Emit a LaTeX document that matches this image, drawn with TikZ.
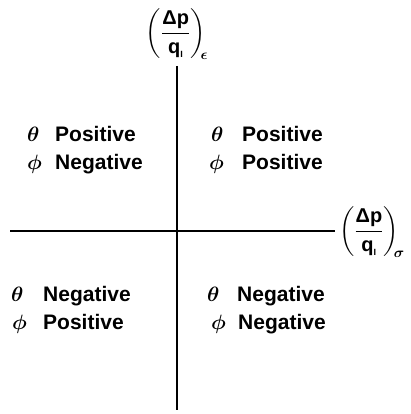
\documentclass[tikz,border=0pt]{standalone}
\usepackage{amsmath}
\usepackage{fontspec}
\setmainfont{Liberation Sans}
\begin{document}
\begin{tikzpicture}[x=1pt,y=-1pt,
  axis/.style={line width=1.5pt},
  lbl/.style={anchor=base west,inner sep=0pt,font=\fontsize{21}{24}\selectfont\bfseries},
  sym/.style={anchor=base west,inner sep=0pt,font=\fontsize{20}{24}\selectfont},
  axlbl/.style={inner sep=0pt,font=\fontsize{20}{24}\selectfont\bfseries}]
\useasboundingbox (0,0) rectangle (411,414);
\coordinate (vt) at (177,66);
\coordinate (vb) at (177,410);
\coordinate (hl) at (10,231);
\coordinate (hr) at (335,231);
\draw[axis] (vt) -- (vb);
\draw[axis] (hl) -- (hr);
\node[axlbl] (ylab) at (177,34) {$\left(\dfrac{\mbox{Δp}}{\mbox{q}_{\mbox{\small I}}}\right)_{\!\!\boldsymbol{\epsilon}}$};
\node[axlbl] (xlab) at (372,232) {$\left(\dfrac{\mbox{Δp}}{\mbox{q}_{\mbox{\small I}}}\right)_{\!\!\boldsymbol{\sigma}}$};
% upper left
\node[sym] (ul1s) at (27,142) {$\boldsymbol{\theta}$};
\node[lbl] (ul1) at (55,142) {Positive};
\node[sym] (ul2s) at (27,169) {$\boldsymbol{\phi}$};
\node[lbl] (ul2) at (55,169) {Negative};
% upper right
\node[sym] (ur1s) at (211,142) {$\boldsymbol{\theta}$};
\node[lbl] (ur1) at (242,142) {Positive};
\node[sym] (ur2s) at (209,169) {$\boldsymbol{\phi}$};
\node[lbl] (ur2) at (242,169) {Positive};
% lower left
\node[sym] (ll1s) at (11,301) {$\boldsymbol{\theta}$};
\node[lbl] (ll1) at (43,301) {Negative};
\node[sym] (ll2s) at (12,329) {$\boldsymbol{\phi}$};
\node[lbl] (ll2) at (43,329) {Positive};
% lower right
\node[sym] (lr1s) at (207,301) {$\boldsymbol{\theta}$};
\node[lbl] (lr1) at (237,301) {Negative};
\node[sym] (lr2s) at (211,329) {$\boldsymbol{\phi}$};
\node[lbl] (lr2) at (238,329) {Negative};
\end{tikzpicture}
\end{document}
